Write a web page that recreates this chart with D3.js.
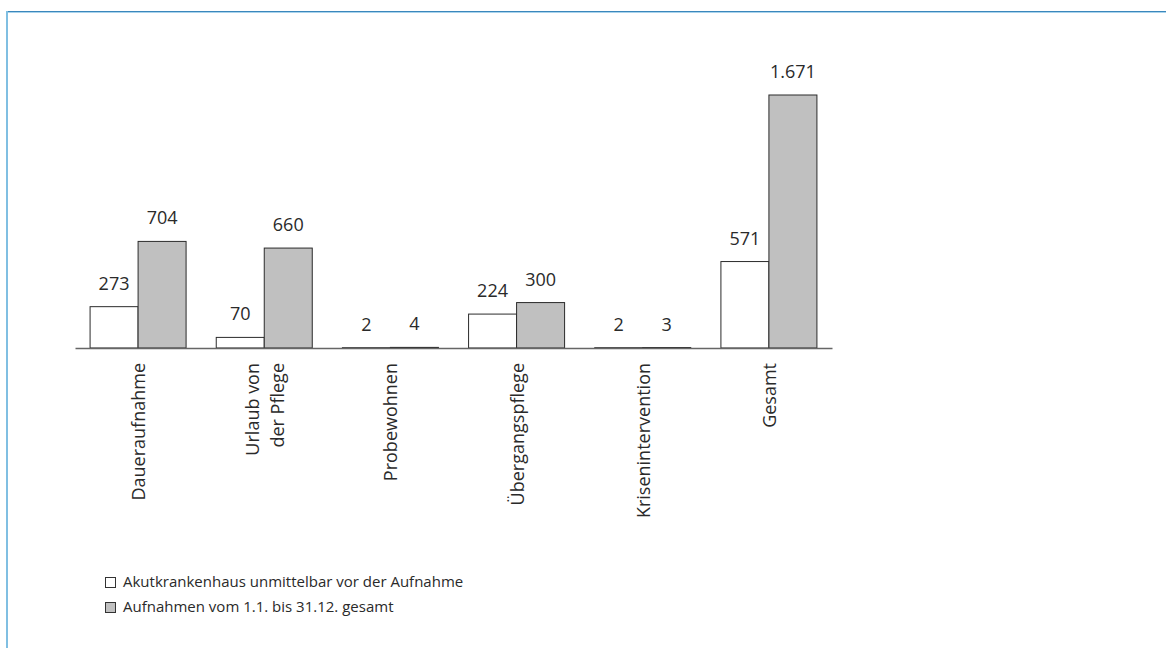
<!DOCTYPE html>
<html>
<head>
<meta charset="utf-8">
<script src="https://cdn.jsdelivr.net/npm/d3@7"></script>
<style>
  html, body { margin: 0; padding: 0; background: #fff; }
  svg { display: block; font-family: "Open Sans", Lato, sans-serif; }
</style>
</head>
<body>
<svg id="chart" width="1166" height="648"></svg>
<script>
// Admissions by type: admitted directly from an acute hospital vs. all admissions of the year
const categories = ["Daueraufnahme", "Urlaub von der Pflege", "Probewohnen", "Übergangspflege", "Krisenintervention", "Gesamt"];
const categoryLines = [["Daueraufnahme"], ["Urlaub von", "der Pflege"], ["Probewohnen"], ["Übergangspflege"], ["Krisenintervention"], ["Gesamt"]];
const seriesNames = ["Akutkrankenhaus unmittelbar vor der Aufnahme", "Aufnahmen vom 1.1. bis 31.12. gesamt"];
const akutValues = [273, 70, 2, 224, 2, 571];
const gesamtValues = [704, 660, 4, 300, 3, 1671];
const seriesColors = ["#ffffff", "#c0c0c0"];

const fmt = d3.formatLocale({ decimal: ",", thousands: ".", grouping: [3], currency: ["", " €"] }).format(",d");

const svg = d3.select("#chart");

// frame
svg.append("line").attr("x1", 6).attr("x2", 1166).attr("y1", 11.5).attr("y2", 11.5)
  .attr("stroke", "#3a87bc").attr("stroke-width", 1);
svg.append("line").attr("x1", 8).attr("x2", 1166).attr("y1", 12.5).attr("y2", 12.5)
  .attr("stroke", "#a9d3ec").attr("stroke-width", 1);
svg.append("line").attr("x1", 7).attr("x2", 7).attr("y1", 11).attr("y2", 648)
  .attr("stroke", "#80bfe2").attr("stroke-width", 2);

const baseY = 348;
const x0 = d3.scaleBand().domain(categories).range([75, 832]).paddingInner(0.239).paddingOuter(0.1195);
const x1 = d3.scaleBand().domain([0, 1]).range([0, x0.bandwidth()]);
const y = d3.scaleLinear().domain([0, 1671]).range([baseY, 95]);

const rows = categories.map((c, i) => ({ cat: c, vals: [akutValues[i], gesamtValues[i]] }));

const groups = svg.append("g").selectAll("g").data(rows).join("g")
  .attr("transform", d => `translate(${x0(d.cat)},0)`);

groups.selectAll("rect").data(d => d.vals.map((v, k) => ({ v, k }))).join("rect")
  .attr("x", d => x1(d.k))
  .attr("y", d => y(d.v))
  .attr("width", x1.bandwidth())
  .attr("height", d => baseY - y(d.v))
  .attr("fill", d => seriesColors[d.k])
  .attr("stroke", "#2b2b2b")
  .attr("stroke-width", 1);

groups.selectAll("text.val").data(d => d.vals.map((v, k) => ({ v, k }))).join("text")
  .attr("class", "val")
  .attr("x", d => x1(d.k) + x1.bandwidth() / 2)
  .attr("y", d => y(d.v) - 17)
  .attr("text-anchor", "middle")
  .attr("font-size", 18)
  .attr("fill", "#2a2a2a")
  .text(d => fmt(d.v));

// baseline axis
const axis = d3.axisBottom(x0).tickSize(0).tickFormat("");
const axisG = svg.append("g").attr("transform", `translate(0,${baseY})`).call(axis);
axisG.select(".domain").attr("stroke", "#666").attr("stroke-width", 1.5);

// rotated category labels
const labelG = svg.append("g");
categories.forEach((c, i) => {
  const lines = categoryLines[i];
  const cx = x0(c) + x0.bandwidth() / 2;
  const lh = 25;
  lines.forEach((ln, j) => {
    const off = (j - (lines.length - 1) / 2) * lh;
    labelG.append("text")
      .attr("transform", `translate(${cx + off + 7},363) rotate(-90)`)
      .attr("text-anchor", "end")
      .attr("font-size", 18)
      .attr("fill", "#2a2a2a")
      .text(ln);
  });
});

// legend
const legend = svg.append("g").attr("transform", "translate(105,577)");
seriesNames.forEach((name, k) => {
  const g = legend.append("g").attr("transform", `translate(0,${k * 25})`);
  g.append("rect").attr("x", 0.5).attr("y", 0.5).attr("width", 10).attr("height", 10)
    .attr("fill", seriesColors[k]).attr("stroke", "#333").attr("stroke-width", 1);
  g.append("text").attr("x", 18).attr("y", 10).attr("font-size", 15)
    .attr("fill", "#2a2a2a").text(name);
});
</script>
</body>
</html>
